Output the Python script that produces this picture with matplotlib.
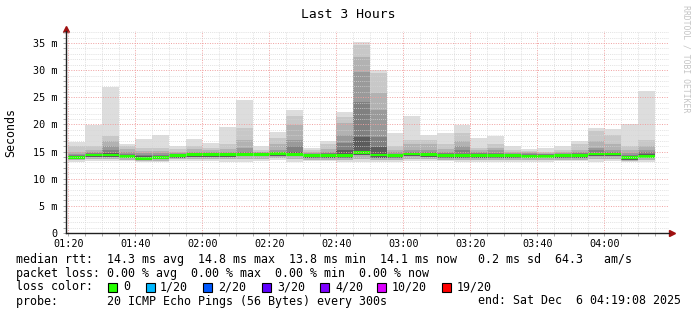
import numpy as np
import matplotlib.pyplot as plt
from matplotlib.ticker import FixedLocator, MultipleLocator, NullFormatter
from matplotlib.patches import Rectangle

# ---- data (ms), one entry per 5 min step starting 01:20
first_step = "01:20"
step_min = 5

ping_max = [16.8, 19.8, 26.9, 16.4, 17.3, 18.0, 16.0, 17.3, 16.6, 19.5,
            24.5, 16.0, 18.6, 22.7, 15.6, 16.9, 22.3, 35.2, 30.0, 18.4,
            21.5, 18.0, 18.4, 19.8, 17.5, 17.9, 16.1, 15.5, 15.6, 16.0,
            16.9, 19.3, 19.1, 20.1, 26.2]
smoke_u2 = [16.0, 16.0, 17.8, 16.0, 15.6, 15.6, 15.4, 16.0, 15.6, 16.3,
            19.3, 15.3, 17.5, 21.5, 15.2, 16.3, 21.4, 34.6, 29.4, 16.0,
            17.2, 17.2, 16.3, 18.4, 15.6, 16.4, 15.2, 15.1, 15.0, 15.2,
            16.3, 18.7, 18.0, 16.0, 17.2]
smoke_u3 = [15.0, 15.3, 16.9, 15.5, 15.1, 15.1, 15.0, 15.4, 15.2, 15.5,
            17.2, 15.0, 16.3, 19.9, 15.0, 15.5, 20.2, 32.5, 25.7, 15.3,
            16.3, 16.4, 15.5, 16.9, 15.2, 15.6, 14.9, 14.9, 14.8, 14.9,
            15.3, 16.9, 16.3, 15.3, 16.0]
smoke_u4 = [14.6, 14.9, 16.0, 15.0, 14.7, 14.7, 14.8, 15.0, 14.9, 15.0,
            15.7, 14.9, 15.3, 17.2, 14.8, 15.0, 18.0, 29.7, 22.6, 14.9,
            15.3, 15.3, 15.0, 16.0, 14.9, 15.2, 14.7, 14.7, 14.6, 14.7,
            14.9, 15.6, 15.3, 14.8, 15.2]
smoke_u5 = [14.4, 14.7, 15.3, 14.6, 14.4, 14.4, 14.6, 14.8, 14.7, 14.8,
            15.0, 14.7, 15.0, 16.0, 14.6, 14.7, 16.5, 24.2, 17.7, 14.6,
            14.9, 14.9, 14.7, 15.3, 14.7, 14.8, 14.5, 14.5, 14.5, 14.6,
            14.7, 15.2, 15.0, 14.4, 14.9]
smoke_u6 = [14.2, 14.5, 14.7, 14.3, 14.1, 14.2, 14.4, 14.6, 14.6, 14.6,
            14.7, 14.6, 14.8, 14.9, 14.4, 14.5, 15.3, 17.7, 15.9, 14.5,
            14.7, 14.6, 14.5, 14.6, 14.5, 14.5, 14.4, 14.4, 14.4, 14.5,
            14.5, 14.8, 14.8, 14.1, 14.6]
median = [13.9, 14.35, 14.35, 14.1, 13.75, 13.9, 14.2, 14.4, 14.4, 14.4,
          14.45, 14.45, 14.6, 14.5, 14.2, 14.2, 14.2, 14.75, 14.35, 14.3,
          14.55, 14.4, 14.3, 14.3, 14.3, 14.2, 14.2, 14.15, 14.15, 14.3,
          14.3, 14.55, 14.55, 13.85, 14.1]
smoke_l_inner = [13.6, 14.0, 14.0, 13.8, 13.5, 13.6, 13.9, 14.0, 14.0, 14.0,
                 14.1, 14.1, 14.2, 14.1, 13.9, 13.9, 13.8, 14.3, 13.9, 13.9,
                 14.1, 14.0, 13.9, 13.9, 13.9, 13.8, 13.8, 13.8, 13.8, 13.9,
                 13.9, 14.1, 14.1, 13.5, 13.8]
smoke_l_mid = [13.4, 13.7, 13.7, 13.5, 13.3, 13.3, 13.6, 13.6, 13.6, 13.6,
               13.7, 13.7, 13.8, 13.6, 13.5, 13.5, 13.4, 13.6, 13.5, 13.5,
               13.7, 13.6, 13.5, 13.5, 13.5, 13.5, 13.5, 13.4, 13.4, 13.5,
               13.5, 13.7, 13.7, 13.3, 13.5]
ping_min = [13.1, 13.3, 13.3, 13.2, 13.0, 13.0, 13.3, 13.2, 13.2, 13.0,
            13.0, 13.3, 13.4, 13.0, 13.2, 13.2, 13.0, 13.0, 13.0, 13.1,
            13.2, 13.2, 13.2, 13.1, 13.1, 13.1, 13.1, 13.0, 13.1, 13.2,
            13.2, 13.1, 13.2, 13.0, 13.1]

x_tick_labels = ["01:20", "01:40", "02:00", "02:20", "02:40",
                 "03:00", "03:20", "03:40", "04:00"]
y_ticks = [0, 5, 10, 15, 20, 25, 30, 35]
y_tick_labels = ["0", "5 m", "10 m", "15 m", "20 m", "25 m", "30 m", "35 m"]

window_start = "01:19:08"
window_end = "04:19:08"

loss_labels = ["0", "1/20", "2/20", "3/20", "4/20", "10/20", "19/20"]
loss_colors = ["#26ff00", "#00b8ff", "#0059ff", "#5e00ff", "#7e00ff", "#dd00ff", "#ff0000"]

legend_rows = [
    "median rtt:  14.3 ms avg  14.8 ms max  13.8 ms min  14.1 ms now   0.2 ms sd  64.3   am/s",
    "packet loss: 0.00 % avg  0.00 % max  0.00 % min  0.00 % now",
]
probe_text = "probe:       20 ICMP Echo Pings (56 Bytes) every 300s"
end_text = "end: Sat Dec  6 04:19:08 2025"


def to_min(s):
    parts = [float(p) for p in s.split(":")]
    return parts[0] * 60 + parts[1] + (parts[2] / 60 if len(parts) > 2 else 0)


W, H = 697, 315
MONO = "DejaVu Sans Mono"

fig = plt.figure(figsize=(W / 100, H / 100), dpi=100)
fig.patch.set_facecolor("white")
ax = fig.add_axes([65.5 / W, (H - 233) / H, 603 / W, 202 / H])

n = len(ping_max)
x_left = np.array([to_min(first_step) + step_min * i for i in range(n)])

# smoke, outer (light) to inner (dark)
smoke_cols = ["#dddddd", "#c8c8c8", "#b2b2b2", "#9a9a9a", "#808080", "#5c5c5c"]
levels = [
    (ping_min, ping_max),
    (smoke_l_mid, smoke_u2),
    (smoke_l_mid, smoke_u3),
    (smoke_l_inner, smoke_u4),
    (smoke_l_inner, smoke_u5),
    (smoke_l_inner, smoke_u6),
]
for (lo, hi), c in zip(levels, smoke_cols):
    lo = np.array(lo)
    hi = np.array(hi)
    ax.bar(x_left, hi - lo, bottom=lo, width=step_min, align="edge",
           color=c, linewidth=0, zorder=1)

# median band
med = np.array(median)
ax.bar(x_left, 0.52, bottom=med - 0.26, width=step_min, align="edge",
       color=loss_colors[0], linewidth=0, zorder=1.5)

ax.set_xlim(to_min(window_start), to_min(window_end))
ax.set_ylim(0, 37.2)

ax.xaxis.set_major_locator(FixedLocator([to_min(t) for t in x_tick_labels]))
ax.set_xticklabels(x_tick_labels)
ax.xaxis.set_minor_locator(MultipleLocator(5))
ax.yaxis.set_major_locator(FixedLocator(y_ticks))
ax.set_yticklabels(y_tick_labels)
ax.yaxis.set_minor_locator(MultipleLocator(1))
ax.xaxis.set_minor_formatter(NullFormatter())
ax.yaxis.set_minor_formatter(NullFormatter())

ax.set_axisbelow(False)
ax.grid(which="minor", color="#d6d6d6", linestyle=(0, (1, 1.5)), linewidth=0.6)
ax.grid(which="major", color="#f0a0a0", linestyle=(0, (1, 1.5)), linewidth=0.7)

ax.tick_params(which="both", length=2, width=0.6, color="#999999")
ax.tick_params(axis="x", which="major", labelsize=7.3, pad=2, labelcolor="black")
ax.tick_params(axis="y", which="major", labelsize=7.3, pad=3.5, labelcolor="black")
for lab in ax.get_xticklabels() + ax.get_yticklabels():
    lab.set_family(MONO)

for s in ["top", "right"]:
    ax.spines[s].set_visible(False)
for s in ["left", "bottom"]:
    ax.spines[s].set_color("#202020")
    ax.spines[s].set_linewidth(1.0)
    ax.spines[s].set_zorder(3)

# axis arrows
arrow_col = "#a01010"
ax.plot([0], [1.01], marker="^", ms=4, color=arrow_col, transform=ax.transAxes, clip_on=False)
ax.plot([1.005], [0], marker=">", ms=4, color=arrow_col, transform=ax.transAxes, clip_on=False)


def ftext(x, y, s, **kw):
    kw.setdefault("family", MONO)
    fig.text(x / W, 1 - y / H, s, **kw)


ftext(348, 14, "Last 3 Hours", ha="center", va="center", size=9.4)
ftext(11, 132, "Seconds", ha="center", va="center", rotation=90, size=8.4)
ftext(686, 5, "RRDTOOL / TOBI OETIKER", ha="center", va="top", rotation=270,
      size=5.9, color="#c4c4c4")

row_y = [259, 273, 287, 301]
for s, y in zip(legend_rows, row_y):
    ftext(16, y, s, ha="left", va="center", size=8.4)

ftext(16, row_y[2], "loss color:", ha="left", va="center", size=8.4)
box_x = [108, 146, 203, 262, 320, 377, 442]
label_x = [123, 160, 218, 277, 335, 392, 457]
for bx, lx, lab, c in zip(box_x, label_x, loss_labels, loss_colors):
    fig.patches.append(Rectangle((bx / W, 1 - (row_y[2] + 4.5) / H), 8.5 / W, 9 / H,
                                 transform=fig.transFigure, facecolor=c,
                                 edgecolor="black", linewidth=0.8))
    ftext(lx, row_y[2], lab, ha="left", va="center", size=8.4)

ftext(16, row_y[3], probe_text, ha="left", va="center", size=8.4)
ftext(681, row_y[3], end_text, ha="right", va="center", size=8.4)

fig.savefig("out.png", dpi=100)
